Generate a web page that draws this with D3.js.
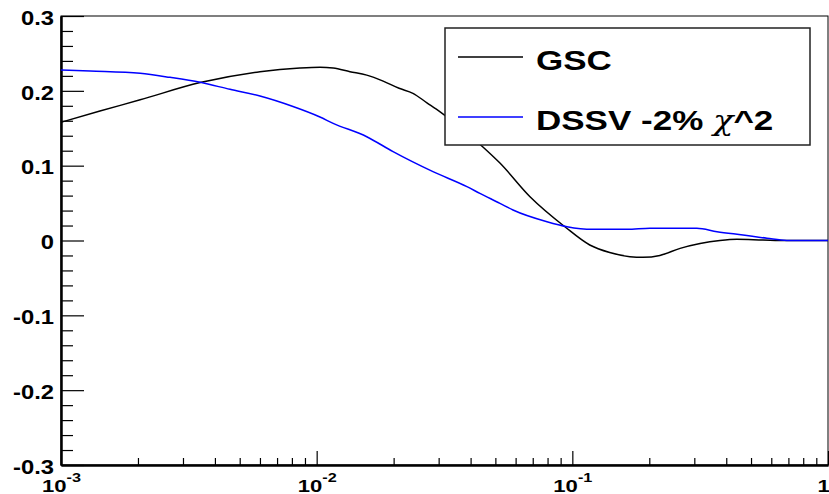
<!DOCTYPE html>
<html>
<head>
<meta charset="utf-8">
<script src="https://cdn.jsdelivr.net/npm/d3@7"></script>
<style>
  body { margin: 0; background: #fff; }
  svg { display: block; }
</style>
</head>
<body>
<script>
// values
const gscX = [0.001, 0.00142, 0.00204, 0.0035, 0.006, 0.0086, 0.0103, 0.0116, 0.0135, 0.0157, 0.0182, 0.021, 0.0238, 0.027, 0.0304,
    0.0447, 0.0521, 0.0683, 0.0935, 0.117, 0.14, 0.168, 0.189, 0.22, 0.264, 0.316, 0.378, 0.44, 0.556, 0.69, 1];
const gscY = [0.158, 0.173, 0.188, 0.211, 0.2256, 0.2305, 0.2315, 0.2305, 0.2256, 0.221, 0.213, 0.2034, 0.1967, 0.184, 0.172,
    0.125, 0.1035, 0.0585, 0.0184, -0.006, -0.016, -0.0216, -0.0225, -0.020, -0.0105, -0.004, 0.0, 0.0016, 0.0007, 0, 0];

const dssvX = [0.001, 0.0013, 0.00204, 0.00267, 0.0035, 0.00458, 0.006, 0.00808, 0.0103, 0.0116, 0.0157,
    0.0199, 0.0285, 0.0387, 0.0435, 0.0521, 0.0586, 0.0796, 0.0953, 0.12, 0.164, 0.201, 0.307, 0.368,
    0.465, 0.577, 0.69, 1];
const dssvY = [0.228, 0.2265, 0.2234, 0.218, 0.2114, 0.202, 0.193, 0.179, 0.165, 0.1566, 0.1387,
    0.1187, 0.092, 0.072, 0.063, 0.0497, 0.0408, 0.0251, 0.0185, 0.015, 0.015, 0.0165, 0.0163, 0.0118,
    0.0073, 0.003, 0, 0];

const yMajorTicks = [-0.3, -0.2, -0.1, 0, 0.1, 0.2, 0.3];
const yTickLabels = ["-0.3", "-0.2", "-0.1", "0", "0.1", "0.2", "0.3"];
const xMajorTicks = [0.001, 0.01, 0.1, 1];
const xTickExponents = ["-3", "-2", "-1", null];

const seriesNames = ["GSC", "DSSV -2% "];
const seriesColors = ["#000000", "#0000ff"];

const width = 829, height = 494;
const frameLeft = 61, frameRight = 828, frameTop = 16, frameBottom = 465;

const svg = d3.select("body").append("svg").attr("width", width).attr("height", height);

const x = d3.scaleLog().domain([0.001, 1]).range([frameLeft, frameRight]);
const y = d3.scaleLinear().domain([-0.3, 0.3]).range([frameBottom, frameTop]);

// minor ticks
const yMinor = d3.range(-0.3, 0.3001, 0.02).filter(v => Math.abs(Math.round(v * 10) - v * 10) > 0.01);
const xMinor = [];
[0.001, 0.01, 0.1].forEach(dec => { for (let k = 2; k <= 9; k++) xMinor.push(dec * k); });

// frame
svg.append("rect")
    .attr("x", frameLeft).attr("y", frameTop)
    .attr("width", frameRight - frameLeft).attr("height", frameBottom - frameTop)
    .attr("fill", "none").attr("stroke", "#000").attr("stroke-width", 1);

// y axis
const yAxisMinor = svg.append("g").attr("transform", `translate(${frameLeft},0)`)
    .call(d3.axisLeft(y).tickValues(yMinor).tickSizeInner(-12).tickSizeOuter(0).tickFormat(""));
const yAxis = svg.append("g").attr("transform", `translate(${frameLeft},0)`)
    .call(d3.axisLeft(y).tickValues(yMajorTicks).tickSizeInner(-23).tickSizeOuter(0)
        .tickFormat((d, i) => yTickLabels[i]));
[yAxisMinor, yAxis].forEach(g => {
    g.select(".domain").attr("stroke", "#000").attr("stroke-width", 2);
    g.selectAll(".tick line").attr("stroke", "#000").attr("stroke-width", 1.2);
});
yAxis.selectAll(".tick text")
    .attr("x", 0).attr("dy", "0.42em")
    .attr("transform", "translate(-7,0) scale(1.22,1)")
    .attr("text-anchor", "end")
    .attr("fill", "#000")
    .style("font-family", "'Liberation Sans', Arial, sans-serif")
    .style("font-weight", "bold")
    .style("font-size", "19.5px");

// x axis
const xAxisMinor = svg.append("g").attr("transform", `translate(0,${frameBottom})`)
    .call(d3.axisBottom(x).tickValues(xMinor).tickSizeInner(-7).tickSizeOuter(0).tickFormat(""));
const xAxis = svg.append("g").attr("transform", `translate(0,${frameBottom})`)
    .call(d3.axisBottom(x).tickValues(xMajorTicks).tickSizeInner(-14).tickSizeOuter(0).tickFormat(""));
[xAxisMinor, xAxis].forEach(g => {
    g.select(".domain").attr("stroke", "#000").attr("stroke-width", 2);
    g.selectAll(".tick line").attr("stroke", "#000").attr("stroke-width", 1.2);
});
xAxis.selectAll(".tick text").each(function (d, i) {
    const t = d3.select(this);
    t.attr("y", 27).attr("dy", null)
        .attr("transform", "scale(1.3,1)")
        .attr("text-anchor", "middle")
        .attr("fill", "#000")
        .style("font-family", "'Liberation Sans', Arial, sans-serif")
        .style("font-weight", "bold")
        .style("font-size", "17px");
    const exp = xTickExponents[i];
    if (exp === null) {
        // the "1" sits on the right edge of the picture, as in the original
        t.attr("text-anchor", "end").attr("x", 1).text("1");
    } else {
        t.append("tspan").text("10");
        t.append("tspan").attr("dy", -10).style("font-size", "12.5px").text(exp);
    }
});

// curves
const line = d3.line().x(d => x(d[0])).y(d => y(d[1])).curve(d3.curveMonotoneX);
const series = [d3.zip(gscX, gscY), d3.zip(dssvX, dssvY)];
svg.append("g").selectAll("path")
    .data(series)
    .join("path")
    .attr("d", line)
    .attr("fill", "none")
    .attr("stroke", (d, i) => seriesColors[i])
    .attr("stroke-width", 1.5);

// legend
const legend = svg.append("g");
legend.append("rect")
    .attr("x", 445).attr("y", 28).attr("width", 365).attr("height", 117)
    .attr("fill", "#fff").attr("stroke", "#222").attr("stroke-width", 1.5);
const legendRows = [57, 117];
seriesNames.forEach((name, i) => {
    legend.append("line")
        .attr("x1", 458).attr("x2", 523)
        .attr("y1", legendRows[i]).attr("y2", legendRows[i])
        .attr("stroke", seriesColors[i]).attr("stroke-width", 1.5);
    const t = legend.append("text")
        .attr("transform", `translate(536,${legendRows[i] + 13}) scale(1.25,1)`)
        .attr("fill", "#000")
        .style("font-family", "'Liberation Sans', Arial, sans-serif")
        .style("font-weight", "bold")
        .style("font-size", "28px")
        .style("white-space", "pre")
        .attr("xml:space", "preserve");
    t.append("tspan").text(name);
    if (i === 1) {
        t.append("tspan")
            .style("font-family", "'DejaVu Serif', 'Liberation Serif', serif")
            .style("font-weight", "normal")
            .style("font-style", "italic")
            .style("font-size", "27px")
            .text("\u03c7");
        t.append("tspan").text("^2");
    }
});
</script>
</body>
</html>
